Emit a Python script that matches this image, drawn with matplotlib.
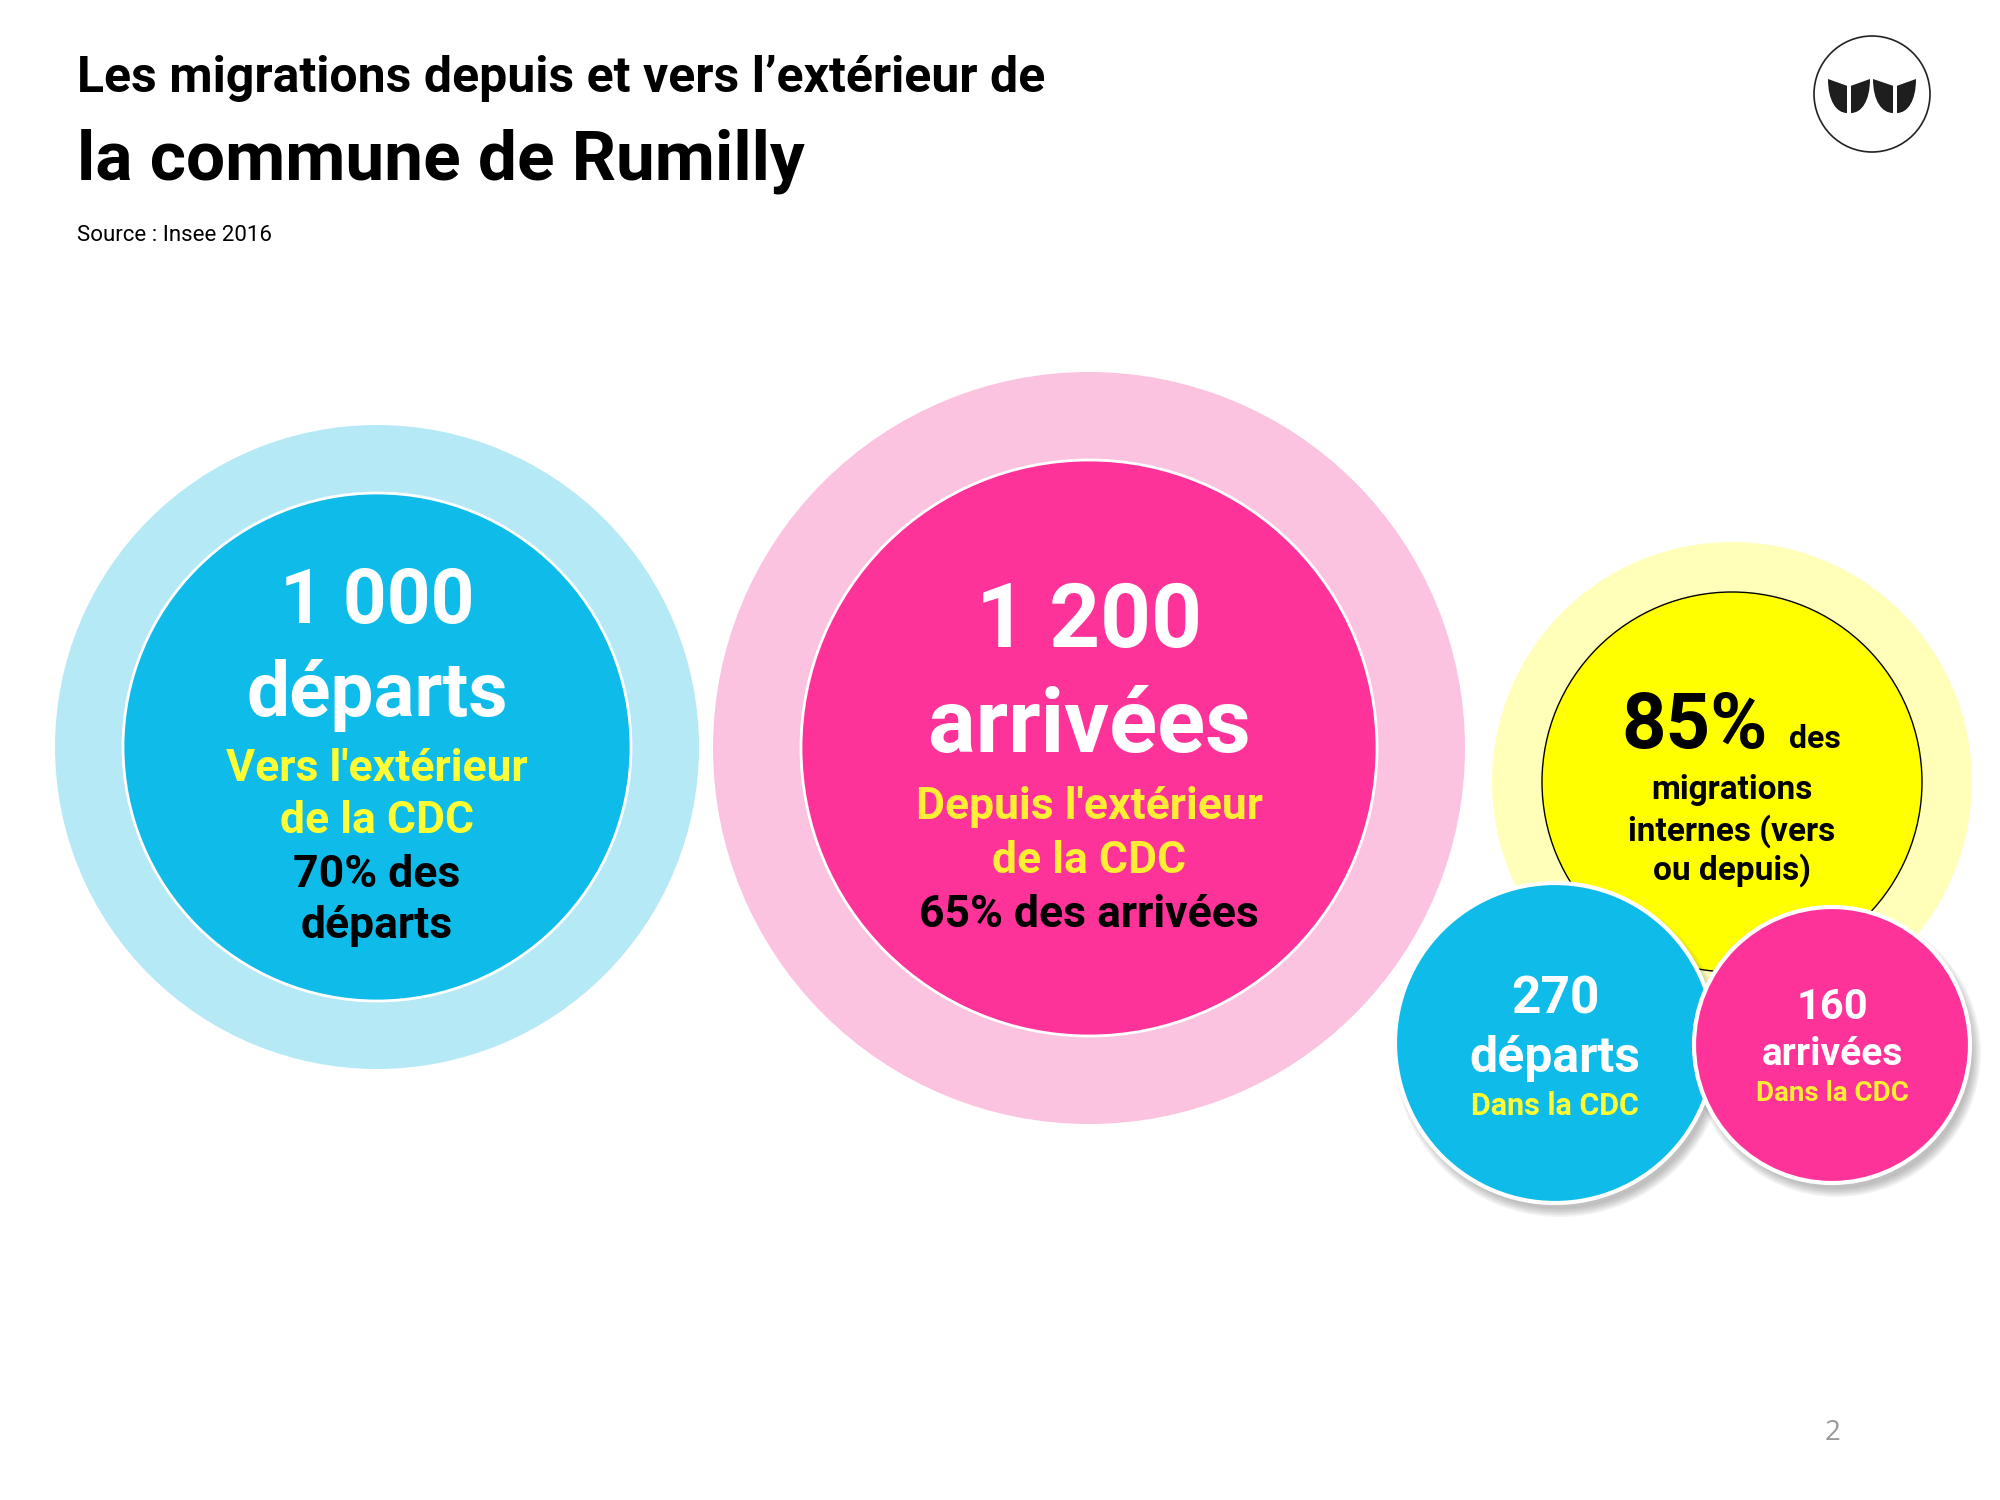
import matplotlib
matplotlib.use("Agg")
import matplotlib.pyplot as plt
from matplotlib.patches import Circle, PathPatch
from matplotlib.path import Path

# values (Insee 2016, commune de Rumilly)
departs_ext = 1000
arrivees_ext = 1200
part_departs_ext = 70
part_arrivees_ext = 65
part_internes = 85
departs_int = 270
arrivees_int = 160

title_l1 = "Les migrations depuis et vers l\u2019extérieur de"
title_l2 = "la commune de Rumilly"
source = "Source : Insee 2016"
page_no = "2"

BODY = ["Roboto", "DejaVu Sans"]

BLUE, BLUE_L = "#0FBBE8", "#B6E9F6"
PINK, PINK_L = "#FE3399", "#FBC3E0"
YEL, YEL_L = "#FFFF00", "#FFFFB9"
TXT_Y1, TXT_Y2 = "#FFFF33", "#FFEE33"


def fmt(v):
    return f"{v:,}".replace(",", " ")


def txt(ax, x, y, s, size, color, **kw):
    ax.text(x, y, s, fontsize=size, color=color, family=BODY,
            fontweight="bold", ha=kw.pop("ha", "center"), va="baseline", **kw)


def shadow(ax, cx, cy, r, dx=5, dy=8):
    # soft drop shadow made of stacked translucent discs
    for k in range(6):
        ax.add_patch(Circle((cx + dx, cy + dy), r + 6 - k * 1.6,
                            fc="#555555", ec="none", alpha=0.07, zorder=3))


def leaf(x0, x1, y0, y1, tip_left=True):
    def X(u):
        return x0 + u * (x1 - x0) if tip_left else x1 - u * (x1 - x0)

    def Y(v):
        return y0 + v * (y1 - y0)
    verts = [(X(0), Y(0)), (X(1), Y(0.2)), (X(1), Y(1)),
             (X(0.45), Y(1.0)), (X(0.0), Y(0.65)), (X(0), Y(0)),
             (X(0), Y(0))]
    codes = [Path.MOVETO, Path.LINETO, Path.LINETO,
             Path.CURVE4, Path.CURVE4, Path.CURVE4, Path.CLOSEPOLY]
    return Path(verts, codes)


fig = plt.figure(figsize=(20, 15), dpi=100)
ax = fig.add_axes([0, 0, 1, 1])
ax.set_xlim(0, 2000)
ax.set_ylim(1500, 0)
ax.set_aspect("equal")
ax.axis("off")

# titles
ax.text(77, 92, title_l1, fontsize=36, fontweight="bold", family=BODY,
        color="black", va="baseline")
ax.text(77, 180, title_l2, fontsize=50, fontweight="bold", family=BODY,
        color="black", va="baseline")
ax.text(77, 241, source, fontsize=16, family=BODY, color="black",
        va="baseline")
ax.text(1833, 1440, page_no, fontsize=20, family=["Open Sans", "DejaVu Sans"],
        color="#9A9A9A", ha="center", va="baseline")

# logo
ax.add_patch(Circle((1872, 94), 58, fc="white", ec="#222222", lw=1.2))
for i, (a, b) in enumerate([(1828, 1847), (1851, 1870), (1873, 1893), (1897, 1916)]):
    ax.add_patch(PathPatch(leaf(a, b, 79, 113, tip_left=(i % 2 == 0)),
                           fc="#1E1E1E", ec="none"))

# big blue: departures to outside
cx, cy = 377, 747
ax.add_patch(Circle((cx, cy), 322, fc=BLUE_L, ec="none"))
ax.add_patch(Circle((cx, cy), 254, fc=BLUE, ec="white", lw=2))
txt(ax, cx, 623, fmt(departs_ext), 55, "white")
txt(ax, cx, 716, "départs", 55, "white")
txt(ax, cx, 781, "Vers l'extérieur", 32, TXT_Y1)
txt(ax, cx, 833, "de la CDC", 32, TXT_Y1)
txt(ax, cx, 887, f"{part_departs_ext}% des", 32, "black")
txt(ax, cx, 938, "départs", 32, "black")

# big pink: arrivals from outside
cx, cy = 1089, 748
ax.add_patch(Circle((cx, cy), 376, fc=PINK_L, ec="none"))
ax.add_patch(Circle((cx, cy), 288, fc=PINK, ec="white", lw=2))
txt(ax, cx, 647, fmt(arrivees_ext), 64, "white")
txt(ax, cx, 752, "arrivées", 64, "white")
txt(ax, cx, 819, "Depuis l'extérieur", 32, TXT_Y2)
txt(ax, cx, 873, "de la CDC", 32, TXT_Y2)
txt(ax, cx, 927, f"{part_arrivees_ext}% des arrivées", 32, "black")

# yellow: internal migrations
cx, cy = 1732, 782
ax.add_patch(Circle((cx, cy), 240, fc=YEL_L, ec="none", zorder=1))
ax.add_patch(Circle((cx, cy), 190, fc=YEL, ec="black", lw=1, zorder=2))
txt(ax, 1768, 748, f"{part_internes}%", 56, "black", ha="right", zorder=2)
txt(ax, 1789, 748, "des", 23, "black", ha="left", zorder=2)
txt(ax, cx, 799, "migrations", 24, "black", zorder=2)
txt(ax, cx, 841, "internes (vers", 24, "black", zorder=2)
txt(ax, cx, 880, "ou depuis)", 24, "black", zorder=2)

# small blue: departures inside the CDC
cx, cy, r = 1555, 1043, 160
shadow(ax, cx, cy, r)
ax.add_patch(Circle((cx, cy), r, fc=BLUE, ec="white", lw=3, zorder=4))
txt(ax, cx, 1014, fmt(departs_int), 37, "white", zorder=5)
txt(ax, cx, 1072, "départs", 36, "white", zorder=5)
txt(ax, cx, 1115, "Dans la CDC", 22, TXT_Y1, zorder=5)

# small pink: arrivals inside the CDC
cx, cy, r = 1832, 1045, 138
shadow(ax, cx, cy, r)
ax.add_patch(Circle((cx, cy), r, fc=PINK, ec="white", lw=3, zorder=6))
txt(ax, cx, 1019, fmt(arrivees_int), 30, "white", zorder=7)
txt(ax, cx, 1065, "arrivées", 28, "white", zorder=7)
txt(ax, cx, 1101, "Dans la CDC", 20, TXT_Y2, zorder=7)

fig.savefig("out.png", dpi=100, facecolor="white")
